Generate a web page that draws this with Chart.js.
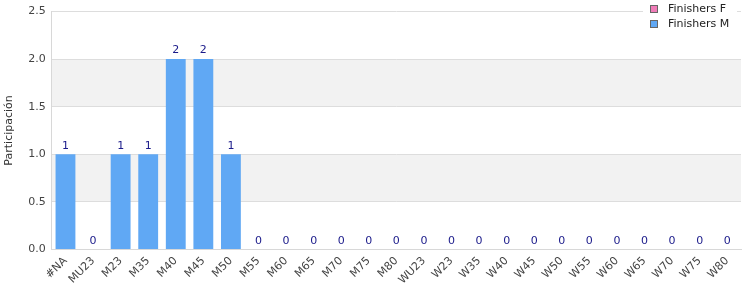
<!DOCTYPE html>
<html>
<head>
<meta charset="utf-8">
<script src="https://cdn.jsdelivr.net/npm/chart.js@4"></script>
<style>
  html,body{margin:0;padding:0;background:#fff;}
  #wrap{width:750px;height:300px;position:relative;}
</style>
</head>
<body>
<div id="wrap"><canvas id="chart"></canvas></div>
<script>
// categories and series
const categories = ['#NA','MU23','M23','M35','M40','M45','M50','M55','M60','M65','M70','M75','M80',
  'WU23','W23','W35','W40','W45','W50','W55','W60','W65','W70','W75','W80'];
const finishersF = [0,0,0,0,0,0,0,0,0,0,0,0,0,0,0,0,0,0,0,0,0,0,0,0,0];
const finishersM = [1,0,1,1,2,2,1,0,0,0,0,0,0,0,0,0,0,0,0,0,0,0,0,0,0];
const yTicks = [0,0.5,1,1.5,2,2.5];

const FONT = 'DejaVu Sans';

// alternate grey bands behind the bars
const bandPlugin = {
  id:'bands',
  beforeDraw(chart){
    const {ctx, chartArea:a, scales:{y}} = chart;
    ctx.save();
    ctx.fillStyle = '#f2f2f2';
    for(let i=1;i<yTicks.length-1;i+=2){
      const top = y.getPixelForValue(yTicks[i+1]);
      const bot = y.getPixelForValue(yTicks[i]);
      ctx.fillRect(a.left, top, a.right-a.left, bot-top);
    }
    ctx.restore();
  }
};

// totals above each stack
const labelPlugin = {
  id:'totals',
  afterDatasetsDraw(chart){
    const {ctx, scales:{x,y}} = chart;
    ctx.save();
    ctx.fillStyle = '#1a1a8a';
    ctx.font = '11px "'+FONT+'"';
    ctx.textAlign = 'center';
    ctx.textBaseline = 'bottom';
    categories.forEach((c,i)=>{
      const tot = finishersF[i]+finishersM[i];
      ctx.fillText(String(tot), x.getPixelForValue(i), y.getPixelForValue(tot)-3);
    });
    ctx.restore();
  }
};

// legend box at top right, over the plot frame
const legendPlugin = {
  id:'legendBox',
  afterDraw(chart){
    const {ctx} = chart;
    const items = [['Finishers F','#f07cb8'],['Finishers M','#60a8f4']];
    ctx.save();
    ctx.fillStyle = '#fff';
    ctx.fillRect(643, 0, 94, 33);
    ctx.font = '11px "'+FONT+'"';
    ctx.textBaseline = 'middle';
    items.forEach((it,i)=>{
      const yy = 9 + i*15;
      ctx.fillStyle = it[1];
      ctx.fillRect(650, yy-4, 8, 8);
      ctx.strokeStyle = '#666';
      ctx.lineWidth = 1;
      ctx.strokeRect(650.5, yy-3.5, 7, 7);
      ctx.fillStyle = '#222';
      ctx.fillText(it[0], 668, yy);
    });
    ctx.restore();
  }
};

new Chart(document.getElementById('chart').getContext('2d'), {
  type:'bar',
  data:{
    labels:categories,
    datasets:[
      {label:'Finishers F', data:finishersF, backgroundColor:'#f07cb8', barPercentage:0.72, categoryPercentage:1},
      {label:'Finishers M', data:finishersM, backgroundColor:'#60a8f4', barPercentage:0.72, categoryPercentage:1}
    ]
  },
  options:{
    animation:false,
    responsive:true,
    maintainAspectRatio:false,
    layout:{padding:{top:2,right:9,left:3,bottom:8}},
    plugins:{legend:{display:false}, tooltip:{enabled:false}},
    scales:{
      x:{
        stacked:true,
        grid:{display:false, drawTicks:false},
        border:{color:'#d8d8d8'},
        ticks:{color:'#444', font:{family:FONT,size:11}, maxRotation:45, minRotation:45, autoSkip:false, padding:5}
      },
      y:{
        stacked:true,
        min:0, max:2.5,
        afterBuildTicks(axis){ axis.ticks = yTicks.map(v=>({value:v})); },
        grid:{color:'#dddddd', drawTicks:false},
        border:{color:'#d8d8d8'},
        ticks:{color:'#444', font:{family:FONT,size:11,lineHeight:1}, padding:6, callback:v=>v.toFixed(1)},
        title:{display:true, text:'Participación', color:'#333', font:{family:FONT,size:11}, padding:{top:0,bottom:6}}
      }
    }
  },
  plugins:[bandPlugin, labelPlugin, legendPlugin]
});
</script>
</body>
</html>
